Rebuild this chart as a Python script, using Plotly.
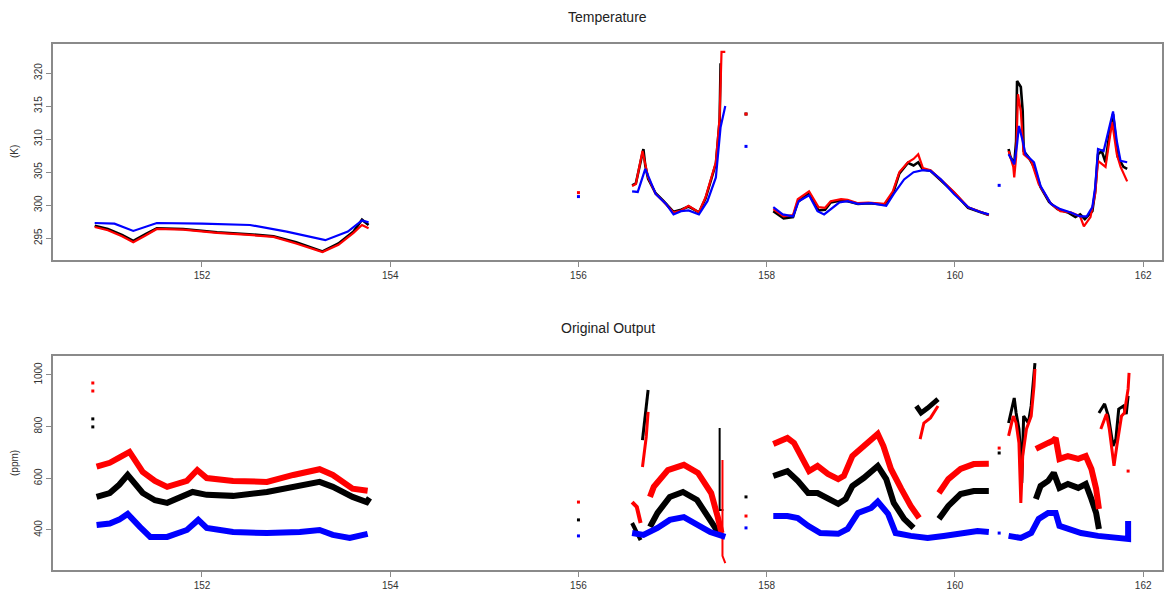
import plotly.graph_objects as go

# ---------------- data: Temperature panel (K) ----------------
T_BLACK_X = [
    [150.86, 151.00, 151.15, 151.27, 151.40, 151.52, 151.80, 152.16, 152.50, 152.76, 153.00, 153.28, 153.45, 153.61, 153.70, 153.77],
    [156.57, 156.61, 156.69, 156.71, 156.74, 156.82, 156.90, 157.01, 157.09, 157.17, 157.22, 157.28, 157.35, 157.40, 157.46, 157.50, 157.51],
    [158.07, 158.18, 158.28, 158.33, 158.45, 158.55, 158.62, 158.68, 158.79, 158.86, 158.97, 159.08, 159.25, 159.34, 159.41, 159.50, 159.56, 159.61, 159.66, 159.74, 159.87, 159.99, 160.14, 160.26, 160.36],
    [160.57, 160.59, 160.63, 160.65, 160.66, 160.70, 160.72, 160.73, 160.78, 160.84, 160.91, 161.00, 161.09, 161.20, 161.28, 161.33, 161.38, 161.46, 161.49, 161.52, 161.56, 161.60, 161.63, 161.68, 161.70, 161.73, 161.79, 161.83],
]
T_BLACK_Y = [
    [296.9, 296.4, 295.5, 294.6, 295.6, 296.5, 296.4, 295.9, 295.6, 295.3, 294.4, 293.0, 294.2, 296.0, 297.8, 297.0],
    [303.0, 303.3, 308.5, 306.0, 304.0, 301.8, 300.7, 299.0, 299.3, 299.8, 299.4, 298.9, 301.0, 303.3, 306.3, 312.8, 321.5],
    [299.1, 298.0, 298.2, 300.5, 301.8, 299.2, 299.3, 300.4, 300.7, 300.6, 300.2, 300.3, 300.1, 301.7, 304.8, 306.4, 306.0, 306.5, 305.4, 305.2, 303.5, 301.9, 299.6, 299.0, 298.5],
    [308.5, 307.3, 306.2, 309.7, 318.8, 317.9, 314.2, 308.2, 307.3, 305.8, 302.7, 300.5, 299.4, 298.9, 298.2, 298.6, 297.9, 299.1, 302.1, 307.7, 308.2, 306.5, 309.7, 313.8, 311.2, 307.3, 305.8, 305.5],
]
T_RED_X = [
    [150.86, 151.00, 151.15, 151.27, 151.40, 151.52, 151.80, 152.16, 152.50, 152.76, 153.00, 153.28, 153.45, 153.61, 153.70, 153.77],
    [156.57, 156.61, 156.68, 156.71, 156.74, 156.82, 156.90, 157.01, 157.09, 157.17, 157.22, 157.28, 157.35, 157.40, 157.46, 157.50, 157.52, 157.56],
    [158.07, 158.18, 158.28, 158.33, 158.45, 158.55, 158.62, 158.68, 158.79, 158.86, 158.97, 159.08, 159.25, 159.34, 159.41, 159.50, 159.56, 159.61, 159.66, 159.74, 159.87, 159.99, 160.14, 160.26, 160.36],
    [160.57, 160.62, 160.63, 160.65, 160.67, 160.70, 160.73, 160.81, 160.89, 161.02, 161.12, 161.23, 161.33, 161.37, 161.44, 161.49, 161.52, 161.56, 161.60, 161.67, 161.72, 161.76, 161.83],
]
T_RED_Y = [
    [296.7, 296.2, 295.3, 294.4, 295.4, 296.4, 296.3, 295.8, 295.5, 295.2, 294.2, 292.9, 294.0, 295.8, 297.0, 296.5],
    [302.9, 303.2, 308.2, 306.2, 304.2, 301.7, 300.6, 298.9, 299.2, 299.9, 299.4, 298.9, 301.2, 303.6, 306.5, 313.3, 323.2, 323.2],
    [299.4, 298.3, 298.5, 300.9, 302.1, 299.7, 299.6, 300.6, 300.9, 300.8, 300.3, 300.4, 300.2, 302.1, 305.0, 306.5, 307.0, 307.7, 305.6, 305.3, 303.6, 302.0, 299.7, 299.1, 298.5],
    [308.2, 305.8, 304.2, 307.3, 316.8, 314.2, 307.7, 306.7, 303.2, 300.2, 299.1, 298.9, 298.3, 296.8, 298.2, 301.7, 306.7, 306.2, 305.8, 312.6, 307.7, 305.8, 303.6],
]
T_BLUE_X = [
    [150.86, 151.07, 151.27, 151.52, 152.00, 152.51, 152.90, 153.31, 153.55, 153.70, 153.77],
    [156.57, 156.63, 156.71, 156.82, 156.93, 157.01, 157.09, 157.17, 157.28, 157.37, 157.46, 157.51, 157.56],
    [158.07, 158.17, 158.28, 158.34, 158.45, 158.54, 158.61, 158.68, 158.77, 158.86, 158.97, 159.11, 159.27, 159.35, 159.46, 159.56, 159.66, 159.74, 159.85, 159.99, 160.14, 160.26, 160.36],
    [160.57, 160.63, 160.66, 160.68, 160.72, 160.75, 160.84, 160.91, 161.02, 161.12, 161.23, 161.33, 161.40, 161.46, 161.49, 161.52, 161.58, 161.63, 161.68, 161.72, 161.76, 161.83],
]
T_BLUE_Y = [
    [297.3, 297.2, 296.1, 297.3, 297.2, 297.0, 296.0, 294.7, 296.0, 297.7, 297.4],
    [302.1, 302.0, 305.5, 301.7, 300.2, 298.6, 299.1, 299.2, 298.6, 300.6, 304.2, 311.8, 315.0],
    [299.7, 298.6, 298.3, 300.6, 301.5, 299.1, 298.6, 299.4, 300.4, 300.6, 300.2, 300.3, 299.9, 301.7, 303.9, 305.0, 305.3, 305.2, 303.9, 301.7, 299.7, 299.0, 298.6],
    [307.7, 306.2, 309.2, 312.0, 309.7, 307.7, 306.5, 302.9, 300.2, 299.4, 298.9, 298.3, 298.3, 299.7, 302.7, 308.5, 308.2, 311.1, 314.2, 309.7, 306.7, 306.5],
]
T_DOT_X = {"red": [156.00, 157.78], "black": [157.78], "blue": [156.00, 157.78, 160.47]}
T_DOT_Y = {"red": [301.9, 313.8], "black": [313.8], "blue": [301.3, 308.9, 303.0]}

# ---------------- data: Original Output panel (ppm) ----------------
O_BLACK_X = [
    [150.88, 151.02, 151.12, 151.21, 151.37, 151.50, 151.63, 151.80, 151.90, 152.05, 152.33, 152.69, 152.97, 153.25, 153.39, 153.60, 153.75, 153.78],
    [156.57, 156.66],
    [156.68, 156.72, 156.74],
    [156.76, 156.84, 156.97, 157.11, 157.26, 157.40, 157.49],
    [157.50, 157.50, 157.54],
    [158.07, 158.22, 158.33, 158.44, 158.54, 158.65, 158.76, 158.84, 158.91, 159.03, 159.18, 159.27, 159.35, 159.46, 159.56],
    [159.59, 159.64, 159.71, 159.82],
    [159.83, 159.93, 160.06, 160.20, 160.36],
    [160.57, 160.62, 160.63, 160.65, 160.68, 160.70, 160.71, 160.73, 160.78, 160.81, 160.84, 160.85],
    [160.86, 160.91, 160.99, 161.05, 161.11, 161.20, 161.31, 161.39, 161.45, 161.50, 161.53],
    [161.53, 161.59, 161.63, 161.68, 161.71, 161.74, 161.79, 161.82, 161.84],
]
O_BLACK_Y = [
    [528, 543, 575, 613, 543, 515, 505, 530, 547, 536, 532, 547, 567, 586, 567, 528, 508, 524],
    [427, 361],
    [748, 864, 942],
    [412, 466, 528, 547, 516, 439, 388],
    [795, 477, 477],
    [609, 628, 590, 543, 543, 520, 501, 520, 570, 601, 648, 597, 505, 443, 408],
    [880, 853, 872, 907],
    [443, 493, 539, 551, 551],
    [814, 899, 911, 853, 791, 686, 582, 841, 814, 880, 985, 1046],
    [520, 570, 590, 621, 563, 578, 563, 578, 520, 466, 404],
    [853, 888, 841, 725, 752, 868, 880, 849, 919],
]
O_RED_X = [
    [150.88, 151.02, 151.12, 151.23, 151.37, 151.50, 151.63, 151.84, 151.95, 152.05, 152.33, 152.69, 152.97, 153.25, 153.39, 153.60, 153.76],
    [156.57, 156.62, 156.66],
    [156.68, 156.72, 156.74],
    [156.76, 156.80, 156.95, 157.12, 157.27, 157.41, 157.48, 157.52],
    [157.53, 157.53, 157.56],
    [158.07, 158.22, 158.29, 158.36, 158.45, 158.54, 158.65, 158.76, 158.82, 158.91, 159.00, 159.11, 159.18, 159.24, 159.32, 159.43, 159.53, 159.62],
    [159.63, 159.67, 159.74, 159.82],
    [159.83, 159.93, 160.06, 160.20, 160.36],
    [160.57, 160.62, 160.65, 160.68, 160.70, 160.72, 160.76, 160.81, 160.84, 160.85],
    [160.86, 160.91, 160.99, 161.04, 161.07, 161.11, 161.20, 161.31, 161.39, 161.45, 161.50, 161.53],
    [161.55, 161.61, 161.64, 161.69, 161.72, 161.77, 161.80, 161.84, 161.85],
]
O_RED_Y = [
    [645, 660, 680, 702, 625, 590, 567, 590, 632, 601, 590, 586, 613, 635, 613, 560, 552],
    [508, 489, 427],
    [644, 760, 857],
    [528, 567, 632, 652, 621, 543, 450, 388],
    [671, 300, 272],
    [733, 756, 737, 686, 628, 648, 617, 597, 609, 686, 717, 752, 772, 725, 636, 559, 493, 446],
    [752, 814, 834, 880],
    [543, 597, 636, 655, 656],
    [764, 841, 814, 737, 505, 686, 791, 841, 957, 1023],
    [714, 725, 737, 745, 756, 675, 686, 675, 686, 636, 559, 481],
    [791, 849, 791, 648, 725, 841, 853, 946, 1008],
]
O_BLUE_X = [
    [150.88, 151.02, 151.12, 151.21, 151.34, 151.45, 151.63, 151.84, 151.96, 152.05, 152.33, 152.69, 153.04, 153.25, 153.39, 153.57, 153.76],
    [156.57, 156.69, 156.84, 156.97, 157.12, 157.26, 157.40, 157.56],
    [158.07, 158.22, 158.33, 158.44, 158.57, 158.76, 158.86, 158.97, 159.11, 159.18, 159.29, 159.37, 159.53, 159.71, 159.88, 160.06, 160.24, 160.36],
    [160.57, 160.70, 160.81, 160.89, 160.99, 161.07, 161.11, 161.20, 161.34, 161.52, 161.69, 161.84, 161.84],
]
O_BLUE_Y = [
    [419, 425, 440, 462, 412, 373, 373, 400, 439, 408, 392, 388, 392, 400, 381, 369, 385],
    [388, 381, 408, 439, 450, 419, 392, 373],
    [454, 454, 446, 416, 388, 385, 404, 466, 485, 510, 462, 388, 377, 369, 377, 388, 396, 392],
    [377, 369, 388, 443, 466, 466, 416, 404, 388, 377, 369, 365, 435],
]
O_DOT_X = {"red": [150.84, 150.84, 156.00, 157.78, 160.47, 161.84],
           "black": [150.84, 150.84, 156.00, 157.78, 160.47],
           "blue": [156.00, 157.78, 160.47]}
O_DOT_Y = {"red": [969, 938, 508, 454, 717, 628],
           "black": [830, 799, 439, 528, 698],
           "blue": [377, 408, 388]}

X_TICKS = [152, 154, 156, 158, 160, 162]
T_TICKS = [295, 300, 305, 310, 315, 320]
O_TICKS = [400, 600, 800, 1000]

COLORS = {"black": "#000000", "red": "#FF0000", "blue": "#0000FF"}

# styling: line width per segment of the Original Output panel
O_BLACK_W = [6, 4, 3, 6, 2, 6, 5, 6, 3, 6, 3]
O_RED_W = [6, 4, 3, 6, 2, 6, 3, 6, 3, 6, 3]
O_BLUE_W = [6, 6, 6, 6]

fig = go.Figure()


def add_lines(xs, ys, color, xa, ya, widths):
    for sx, sy, w in zip(xs, ys, widths):
        fig.add_trace(go.Scatter(x=sx, y=sy, mode="lines", xaxis=xa, yaxis=ya,
                                 line=dict(color=color, width=w), showlegend=False,
                                 hoverinfo="skip"))


def add_dots(dx, dy, xa, ya, size):
    for name in ["black", "red", "blue"]:
        if name in dx:
            fig.add_trace(go.Scatter(x=dx[name], y=dy[name], mode="markers", xaxis=xa, yaxis=ya,
                                     marker=dict(color=COLORS[name], size=size, symbol="square"),
                                     showlegend=False, hoverinfo="skip"))


# top panel
add_lines(T_BLACK_X, T_BLACK_Y, COLORS["black"], "x", "y", [2.6] * len(T_BLACK_X))
add_lines(T_RED_X, T_RED_Y, COLORS["red"], "x", "y", [2.2] * len(T_RED_X))
add_lines(T_BLUE_X, T_BLUE_Y, COLORS["blue"], "x", "y", [2.2] * len(T_BLUE_X))
add_dots(T_DOT_X, T_DOT_Y, "x", "y", 3)

# bottom panel
add_lines(O_BLACK_X, O_BLACK_Y, COLORS["black"], "x2", "y2", O_BLACK_W)
add_lines(O_RED_X, O_RED_Y, COLORS["red"], "x2", "y2", O_RED_W)
add_lines(O_BLUE_X, O_BLUE_Y, COLORS["blue"], "x2", "y2", O_BLUE_W)
add_dots(O_DOT_X, O_DOT_Y, "x2", "y2", 3)

W, H = 1165, 594
xdom = [53 / W, 1162 / W]
top_dom = [1 - 260 / H, 1 - 44 / H]
bot_dom = [1 - 570 / H, 1 - 356 / H]

axis_common = dict(showgrid=False, zeroline=False, showline=True, linecolor="#8a8a8a",
                   linewidth=1.5, mirror=True, ticks="outside", ticklen=5,
                   tickcolor="#8a8a8a", tickwidth=1,
                   tickfont=dict(family="Liberation Sans, Arial", size=10, color="#333333"))

fig.update_layout(
    width=W, height=H,
    margin=dict(l=0, r=0, t=0, b=0),
    paper_bgcolor="white", plot_bgcolor="white",
    xaxis=dict(domain=xdom, anchor="y", range=[150.417, 162.2], tickvals=X_TICKS, **axis_common),
    yaxis=dict(domain=top_dom, anchor="x", range=[291.7, 324.4], tickvals=T_TICKS, tickangle=-90, **axis_common),
    xaxis2=dict(domain=xdom, anchor="y2", range=[150.417, 162.2], tickvals=X_TICKS, **axis_common),
    yaxis2=dict(domain=bot_dom, anchor="x2", range=[245, 1073.5], tickvals=O_TICKS, tickangle=-90, **axis_common),
    annotations=[
        dict(text="Temperature", x=607.5 / W, y=1 - 17 / H, xref="paper", yref="paper",
             showarrow=False, xanchor="center", yanchor="middle",
             font=dict(family="Liberation Sans, Arial", size=14, color="#222222")),
        dict(text="Original Output", x=607.5 / W, y=1 - 328 / H, xref="paper", yref="paper",
             showarrow=False, xanchor="center", yanchor="middle",
             font=dict(family="Liberation Sans, Arial", size=14, color="#222222")),
        dict(text="(K)", x=15 / W, y=1 - 152 / H, xref="paper", yref="paper", textangle=-90,
             showarrow=False, xanchor="center", yanchor="middle",
             font=dict(family="Liberation Sans, Arial", size=10, color="#333333")),
        dict(text="(ppm)", x=15 / W, y=1 - 463 / H, xref="paper", yref="paper", textangle=-90,
             showarrow=False, xanchor="center", yanchor="middle",
             font=dict(family="Liberation Sans, Arial", size=10, color="#333333")),
    ],
)

fig.write_html("out.html")
